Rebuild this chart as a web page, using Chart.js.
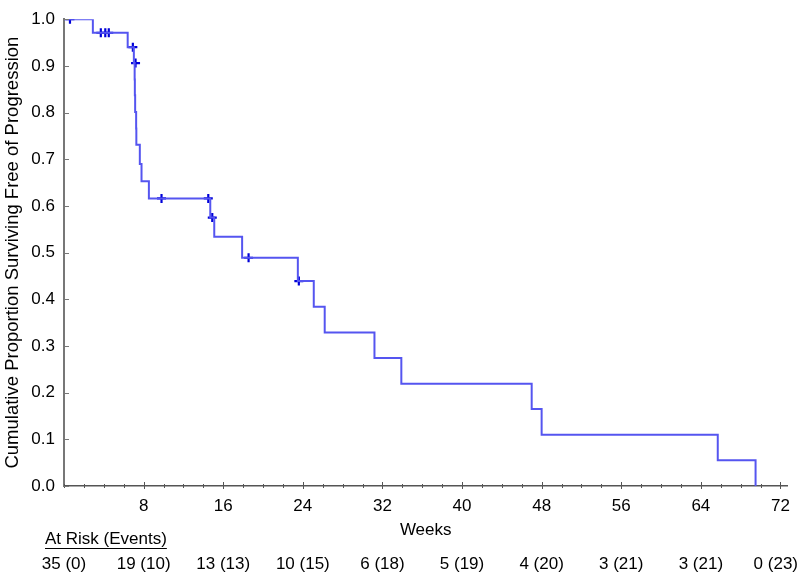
<!DOCTYPE html>
<html><head><meta charset="utf-8">
<script src="https://cdn.jsdelivr.net/npm/chart.js@4.4.1/dist/chart.umd.min.js"></script>
<style>html,body{margin:0;padding:0;background:#fff}</style>
</head><body>
<canvas id="c" width="800" height="572"></canvas>
<script>
// ---- data ----
const eventWeeks = [0, 2.9, 6.4, 7.02, 7.1, 7.12, 7.15, 7.25, 7.27, 7.62, 7.79, 8.53, 14.7, 15.1, 17.9, 23.5, 25.1, 26.2, 31.2, 33.9, 47.0, 48.0, 65.7, 69.5];
const survival   = [1.0, 0.971, 0.940, 0.906, 0.871, 0.837, 0.801, 0.766, 0.731, 0.690, 0.653, 0.616, 0.575, 0.534, 0.489, 0.439, 0.384, 0.329, 0.274, 0.219, 0.165, 0.110, 0.055, 0.0];
const censorWeeks    = [0.6, 3.7, 4.15, 4.5, 6.92, 7.19, 9.8, 14.5, 14.9, 18.55, 23.6];
const censorSurvival = [1.0, 0.971, 0.971, 0.971, 0.940, 0.906, 0.616, 0.616, 0.575, 0.489, 0.439];
const xTickWeeks = [0,2,4,6,8,10,12,14,16,18,20,22,24,26,28,30,32,34,36,38,40,42,44,46,48,50,52,54,56,58,60,62,64,66,68,70,72];
const xLabelWeeks = [8,16,24,32,40,48,56,64,72];
const yTickValues = [0,0.1,0.2,0.3,0.4,0.5,0.6,0.7,0.8,0.9,1.0];
const riskWeeks  = [0,8,16,24,32,40,48,56,64,72];
const riskLabels = ['35 (0)','19 (10)','13 (13)','10 (15)','6 (18)','5 (19)','4 (20)','3 (21)','3 (21)','0 (23)'];
const riskHeading = 'At Risk (Events)';

const FONT = '"Liberation Sans", Arial, sans-serif';

const curve = eventWeeks.map((w,i)=>({x:w, y:survival[i]}));
const censors = censorWeeks.map((w,i)=>({x:w, y:censorSurvival[i]}));

const extras = {
  id:'extras',
  afterDraw(chart){
    const ctx = chart.ctx, xs = chart.scales.x, ys = chart.scales.y, ca = chart.chartArea;
    ctx.save();
    // x tick marks
    ctx.strokeStyle = '#555'; ctx.lineWidth = 1;
    xTickWeeks.forEach(v=>{
      const px = Math.round(xs.getPixelForValue(v))+0.5;
      const major = xLabelWeeks.includes(v);
      ctx.beginPath();
      ctx.moveTo(px, ca.bottom - (major?4:2));
      ctx.lineTo(px, ca.bottom + (major?3:2));
      ctx.stroke();
    });
    // y tick marks (inward)
    ctx.strokeStyle = '#777';
    yTickValues.forEach(v=>{
      const py = Math.round(ys.getPixelForValue(v))+0.5;
      ctx.beginPath();
      ctx.moveTo(ca.left, py);
      ctx.lineTo(ca.left+5, py);
      ctx.stroke();
    });
    // at-risk table
    ctx.fillStyle = '#000';
    ctx.font = '17px ' + FONT;
    ctx.textBaseline = 'alphabetic';
    ctx.textAlign = 'left';
    const hx = 45, hy = 544;
    ctx.fillText(riskHeading, hx, hy);
    const hw = ctx.measureText(riskHeading).width;
    ctx.strokeStyle = '#000'; ctx.lineWidth = 1.2;
    ctx.beginPath(); ctx.moveTo(hx, hy+4.5); ctx.lineTo(hx+hw, hy+4.5); ctx.stroke();
    riskWeeks.forEach((w,i)=>{
      const t = riskLabels[i];
      const tw = ctx.measureText(t).width;
      let left = xs.getPixelForValue(w) - tw/2;
      if (left + tw > 798) left = 798 - tw;
      if (left < 2) left = 2;
      ctx.fillText(t, left, 569);
    });
    ctx.restore();
  }
};

new Chart(document.getElementById('c'), {
  type:'scatter',
  data:{datasets:[
    {data:curve, showLine:true, stepped:'before', borderColor:'rgb(85,85,240)', borderWidth:2, pointRadius:0, fill:false},
    {data:censors, showLine:false, pointStyle:'cross', pointRadius:4.5, borderColor:'#0000d8', borderWidth:2.2, backgroundColor:'#0000d8',
     clip:{left:false, top:0, right:false, bottom:false}}
  ]},
  options:{
    responsive:false, animation:false, devicePixelRatio:1,
    layout:{padding:{top:7, right:10, left:0, bottom:0}},
    plugins:{legend:{display:false}, tooltip:{enabled:false}},
    scales:{
      x:{type:'linear', min:0, max:72.7,
        afterBuildTicks: s => { s.ticks = xTickWeeks.map(v=>({value:v})); },
        ticks:{autoSkip:false, maxRotation:0, padding:10, color:'#000', font:{family:FONT, size:17},
          callback: v => xLabelWeeks.includes(v) ? String(v) : ''},
        grid:{display:false, drawTicks:false},
        border:{display:true, color:'#555', width:1.5},
        title:{display:true, text:'Weeks', color:'#000', font:{family:FONT, size:17}, padding:{top:0, bottom:31}},
        afterFit: s => { s.height = 86; }
      },
      y:{min:0, max:1,
        afterBuildTicks: s => { s.ticks = yTickValues.map(v=>({value:v})); },
        ticks:{padding:9, color:'#000', font:{family:FONT, size:17}, callback: v => Number(v).toFixed(1)},
        grid:{display:false, drawTicks:false},
        border:{display:true, color:'#777', width:2},
        title:{display:true, text:'Cumulative Proportion Surviving Free of Progression', color:'#000', font:{family:FONT, size:18.5}, padding:{top:2, bottom:0}},
        afterFit: s => { s.width = 64; }
      }
    }
  },
  plugins:[extras]
});
</script>
</body></html>
